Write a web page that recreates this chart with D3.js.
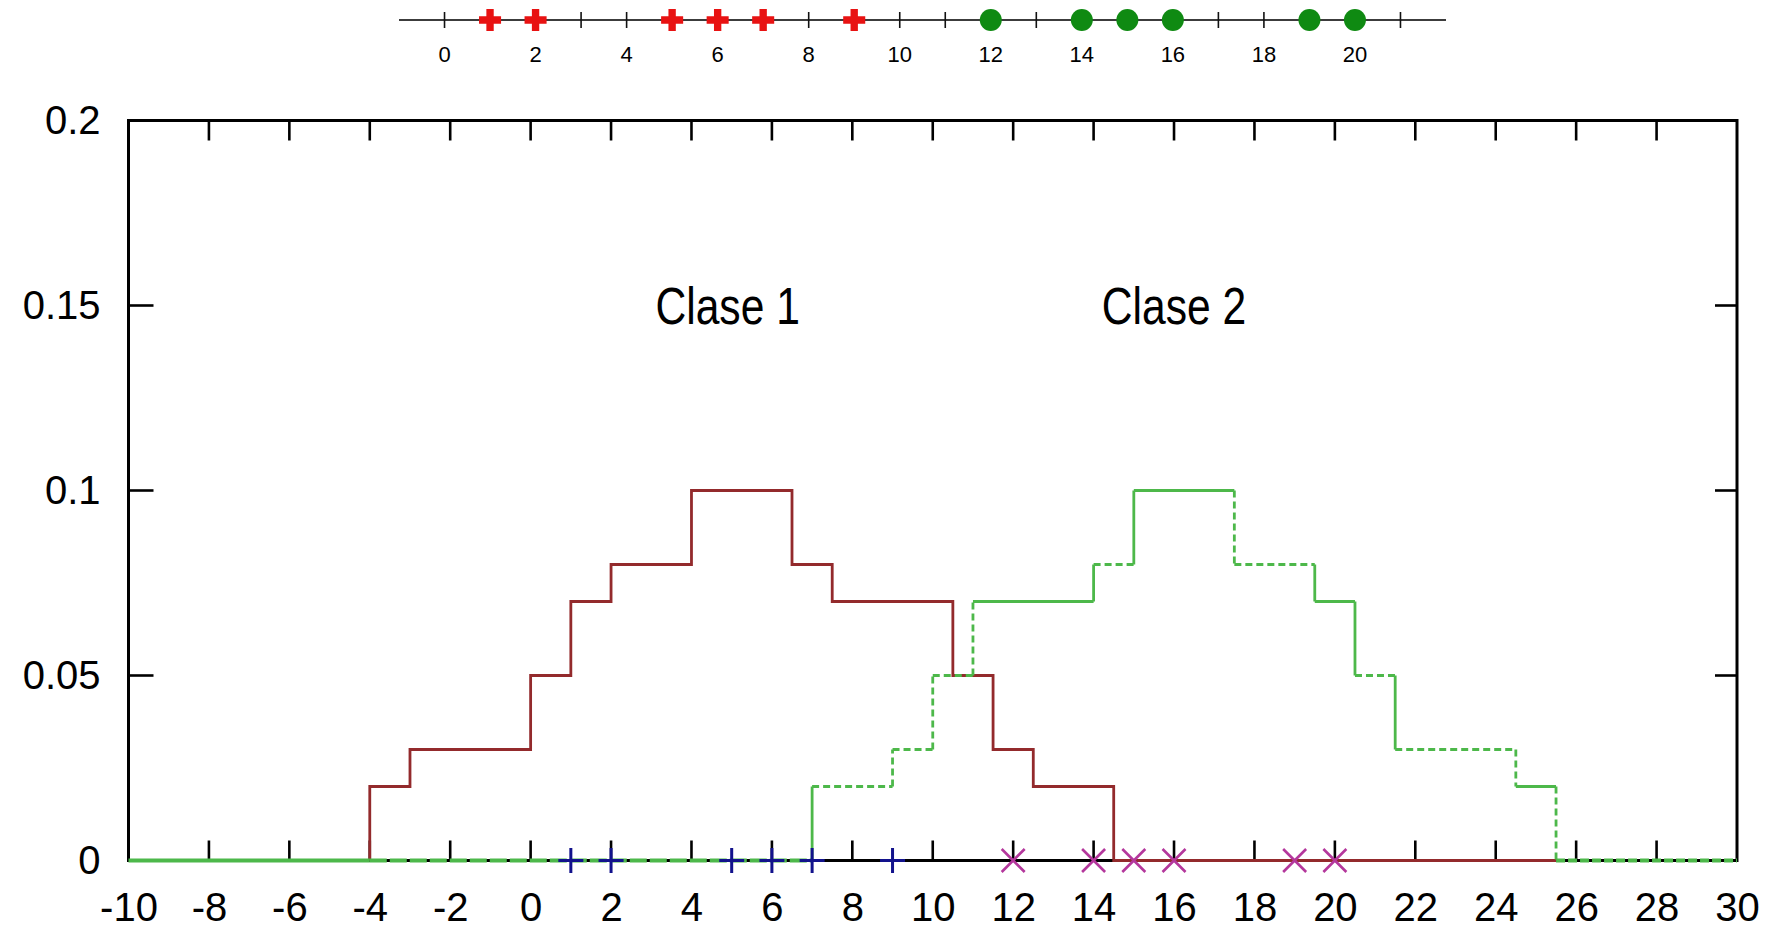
<!DOCTYPE html>
<html>
<head>
<meta charset="utf-8">
<script src="https://cdn.jsdelivr.net/npm/d3@7"></script>
<style>
  html, body { margin: 0; padding: 0; background: #fff; }
  svg { display: block; }
  text { font-family: "Liberation Sans", Arial, sans-serif; fill: #000; }
</style>
</head>
<body>
<svg id="chart" width="1768" height="933"></svg>
<script>
// Training samples of each class
const class1Points = [1, 2, 5, 6, 7, 9];
const class2Points = [12, 14, 15, 16, 19, 20];

// Parzen-window density estimates as step functions:
// breakpoint x and the density level that starts there
const class1Steps   = [-4, -3, 0, 1, 2, 4, 6.5, 7.5, 10.5, 11.5, 12.5, 14.5];
const class1Density = [0.02, 0.03, 0.05, 0.07, 0.08, 0.1, 0.08, 0.07, 0.05, 0.03, 0.02, 0];
const class2Steps   = [7, 9, 10, 11, 14, 15, 17.5, 19.5, 20.5, 21.5, 24.5, 25.5];
const class2Density = [0.02, 0.03, 0.05, 0.07, 0.08, 0.1, 0.08, 0.07, 0.05, 0.03, 0.02, 0];

// Axis ticks
const xTicks = [-10, -8, -6, -4, -2, 0, 2, 4, 6, 8, 10, 12, 14, 16, 18, 20, 22, 24, 26, 28, 30];
const yTicks = [0, 0.05, 0.1, 0.15, 0.2];
const lineTicks = [0, 1, 2, 3, 4, 5, 6, 7, 8, 9, 10, 11, 12, 13, 14, 15, 16, 17, 18, 19, 20, 21];
const lineLabels = [0, 2, 4, 6, 8, 10, 12, 14, 16, 18, 20];

// Class captions, placed in data coordinates
const classNames = ["Clase 1", "Clase 2"];
const classNameX = [4.9, 16];
const classNameY = 0.15;

const svg = d3.select("#chart");
const RED = "#932a2c", GREEN = "#4db84a";
const FONT = "Liberation Sans, Arial, sans-serif";

// ---------- main plot ----------
const x = d3.scaleLinear().domain([-10, 30]).range([128.5, 1737]);
const y = d3.scaleLinear().domain([0, 0.2]).range([860.5, 120.5]);
const [x0, x1] = x.range();
const [yb, yt] = y.range();

const g = svg.append("g");

// frame
g.append("rect").attr("x", x0).attr("y", yt).attr("width", x1 - x0).attr("height", yb - yt)
  .attr("fill", "none").attr("stroke", "#000").attr("stroke-width", 3);

// tick labels
const bottomAxis = g.append("g").attr("transform", `translate(0,${yb})`)
  .call(d3.axisBottom(x).tickValues(xTicks).tickSize(0).tickPadding(32).tickFormat(d => String(d)));
bottomAxis.select(".domain").remove();
bottomAxis.selectAll("text").attr("font-size", 40).attr("font-family", FONT).attr("fill", "#000");

const leftAxis = g.append("g").attr("transform", `translate(${x0},0)`)
  .call(d3.axisLeft(y).tickValues(yTicks).tickSize(0).tickPadding(28).tickFormat(d => String(d)));
leftAxis.select(".domain").remove();
leftAxis.selectAll("text").attr("font-size", 40).attr("font-family", FONT).attr("fill", "#000");

// inward ticks, mirrored on the opposite side
const inner = xTicks.slice(1, -1);
const innerY = yTicks.slice(1, -1);
const tickG = g.append("g").attr("stroke", "#000").attr("stroke-width", 2.6);
tickG.selectAll(".tb").data(inner).join("line")
  .attr("x1", d => x(d)).attr("x2", d => x(d)).attr("y1", yb).attr("y2", yb - 20);
tickG.selectAll(".tt").data(inner).join("line")
  .attr("x1", d => x(d)).attr("x2", d => x(d)).attr("y1", yt).attr("y2", yt + 20);
tickG.selectAll(".tl").data(innerY).join("line")
  .attr("x1", x0).attr("x2", x0 + 25).attr("y1", d => y(d)).attr("y2", d => y(d));
tickG.selectAll(".tr").data(innerY).join("line")
  .attr("x1", x1).attr("x2", x1 - 22).attr("y1", d => y(d)).attr("y2", d => y(d));

// class 1 estimate (red), continuing along zero until class 2 vanishes
const stepLine = d3.line().x(d => x(d[0])).y(d => y(d[1])).curve(d3.curveStepAfter);
const redPts = [[class1Steps[0], 0]]
  .concat(class1Steps.map((s, i) => [s, class1Density[i]]))
  .concat([[class2Steps[class2Steps.length - 1], 0]]);
g.append("path").attr("d", stepLine(redPts))
  .attr("fill", "none").attr("stroke", RED).attr("stroke-width", 2.8).attr("stroke-linejoin", "miter");

// class 2 estimate (green) along zero
const greenZero = g.append("g").attr("stroke", GREEN).attr("fill", "none");
greenZero.append("line")
  .attr("x1", x(-10)).attr("x2", x(class1Steps[0])).attr("y1", y(0)).attr("y2", y(0))
  .attr("stroke-width", 4);
greenZero.append("line")
  .attr("x1", x(class1Steps[0])).attr("x2", x(class2Steps[0])).attr("y1", y(0)).attr("y2", y(0))
  .attr("stroke-width", 4).attr("stroke-dasharray", "17,3");
greenZero.append("line")
  .attr("x1", x(class2Steps[class2Steps.length - 1])).attr("x2", x(30)).attr("y1", y(0)).attr("y2", y(0))
  .attr("stroke-width", 4).attr("stroke-dasharray", "9,3");

// class 2 step segments (vertical then horizontal for every breakpoint)
function stepSegments(steps, levels) {
  const segs = [];
  let prev = 0;
  steps.forEach((s, i) => {
    segs.push([s, prev, s, levels[i]]);
    if (i < steps.length - 1) segs.push([s, levels[i], steps[i + 1], levels[i]]);
    prev = levels[i];
  });
  return segs;
}
const dashedSegs = new Set([1, 2, 3, 4, 5, 6, 9, 12, 13, 17, 19, 20, 22]);
g.append("g").selectAll("line").data(stepSegments(class2Steps, class2Density)).join("line")
  .attr("x1", d => x(d[0])).attr("y1", d => y(d[1]))
  .attr("x2", d => x(d[2])).attr("y2", d => y(d[3]))
  .attr("stroke", GREEN).attr("stroke-width", 2.8).attr("stroke-linecap", "butt")
  .attr("stroke-dasharray", (d, i) => dashedSegs.has(i) ? "7,4" : null);

// sample markers on the zero line
const mk = g.append("g");
mk.selectAll(".p1").data(class1Points).join("path")
  .attr("d", d => `M${x(d) - 12.5},${y(0)}H${x(d) + 12.5}M${x(d)},${y(0) - 12.5}V${y(0) + 12.5}`)
  .attr("stroke", "#12128c").attr("stroke-width", 3).attr("fill", "none");
mk.selectAll(".p2").data(class2Points).join("path")
  .attr("d", d => `M${x(d) - 11.5},${y(0) - 11.5}L${x(d) + 11.5},${y(0) + 11.5}M${x(d) - 11.5},${y(0) + 11.5}L${x(d) + 11.5},${y(0) - 11.5}`)
  .attr("stroke", "#b4379c").attr("stroke-width", 2.6).attr("fill", "none");

// class captions
g.selectAll(".cap").data(classNames).join("text")
  .attr("transform", (d, i) => `translate(${x(classNameX[i])},${y(classNameY)}) scale(0.82,1)`)
  .attr("text-anchor", "middle").attr("dy", "0.36em")
  .attr("font-size", 52).text(d => d);

// ---------- number line with the samples ----------
const nx = d3.scaleLinear().domain([-1, 22]).range([399, 1446]);
const ny = 20;
const numLine = svg.append("g");
numLine.append("line").attr("x1", nx(-1)).attr("x2", nx(22)).attr("y1", ny).attr("y2", ny)
  .attr("stroke", "#3c3c3c").attr("stroke-width", 2);
numLine.selectAll(".nt").data(lineTicks).join("line")
  .attr("x1", d => nx(d)).attr("x2", d => nx(d)).attr("y1", ny - 8).attr("y2", ny + 8)
  .attr("stroke", "#111").attr("stroke-width", 1.6);
numLine.selectAll(".nl").data(lineLabels).join("text")
  .attr("x", d => nx(d)).attr("y", 62).attr("text-anchor", "middle")
  .attr("font-size", 22).text(d => d);
numLine.selectAll(".c1").data(class1Points).join("path")
  .attr("transform", d => `translate(${nx(d)},${ny})`)
  .attr("d", d3.symbol(d3.symbolCross, 270))
  .attr("fill", "#e81212");
numLine.selectAll(".c2").data(class2Points).join("path")
  .attr("transform", d => `translate(${nx(d)},${ny})`)
  .attr("d", d3.symbol(d3.symbolCircle, 380))
  .attr("fill", "#0f8a12");
</script>
</body>
</html>
